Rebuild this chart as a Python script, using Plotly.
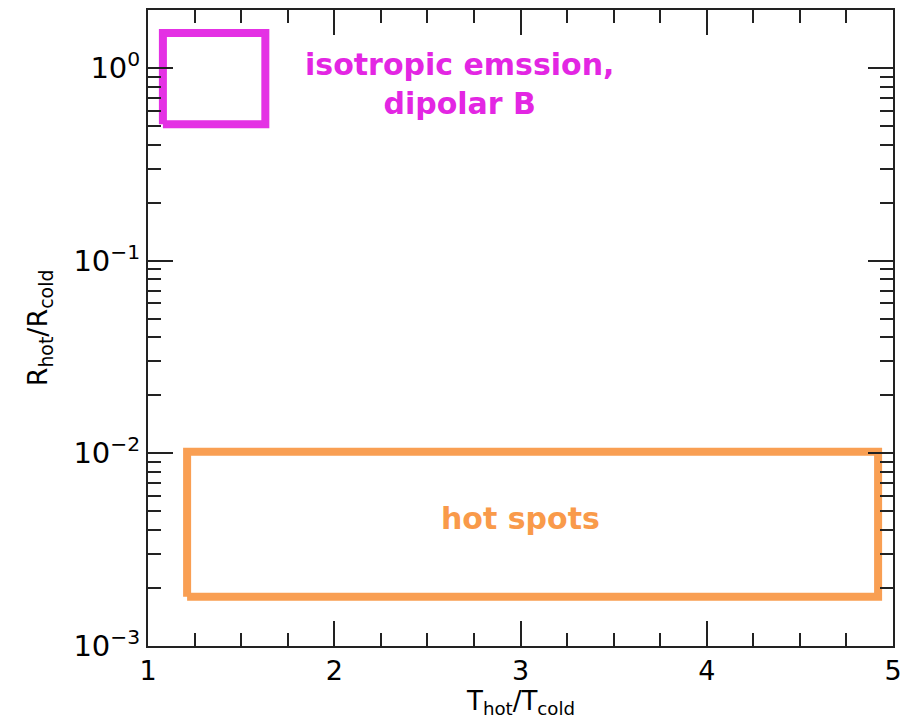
import math
import plotly.graph_objects as go

# Region boundaries (T_hot/T_cold, R_hot/R_cold)
iso_x = [1.08, 1.63, 1.63, 1.08, 1.08]
iso_y = [0.51, 0.51, 1.52, 1.52, 0.51]
hot_x = [1.21, 4.92, 4.92, 1.21, 1.21]
hot_y = [0.0018, 0.0018, 0.0102, 0.0102, 0.0018]

iso_label = "isotropic emssion,<br>dipolar B"
hot_label = "hot spots"
iso_label_pos = (2.675, 0.83)
hot_label_pos = (3.0, 0.0046)

x_title = "T<sub>hot</sub>/T<sub>cold</sub>"
y_title = "R<sub>hot</sub>/R<sub>cold</sub>"
x_ticks = [1, 2, 3, 4, 5]
x_minor = [1.25, 1.5, 1.75, 2.25, 2.5, 2.75, 3.25, 3.5, 3.75, 4.25, 4.5, 4.75]
y_ticks = [0.001, 0.01, 0.1, 1]
y_ticktext = ["10<sup>−3</sup>", "10<sup>−2</sup>", "10<sup>−1</sup>", "10<sup>0</sup>"]
y_minor = [m * d for d in [0.001, 0.01, 0.1, 1] for m in range(2, 10) if m * d <= 2.0]

MAGENTA = "#e326e3"
ORANGE = "#f99a4a"
FONT = "DejaVu Sans, Verdana, sans-serif"

fig = go.Figure()
fig.add_trace(go.Scatter(x=iso_x, y=iso_y, mode="lines",
                         line=dict(color=MAGENTA, width=8), opacity=0.95,
                         showlegend=False, hoverinfo="skip"))
fig.add_trace(go.Scatter(x=hot_x, y=hot_y, mode="lines",
                         line=dict(color=ORANGE, width=8), opacity=0.95,
                         showlegend=False, hoverinfo="skip"))

fig.add_annotation(x=iso_label_pos[0], y=math.log10(iso_label_pos[1]), xref="x", yref="y",
                   text=iso_label, showarrow=False, align="center",
                   font=dict(family=FONT, size=30, color=MAGENTA, weight="bold"))
fig.add_annotation(x=hot_label_pos[0], y=math.log10(hot_label_pos[1]), xref="x", yref="y",
                   text=hot_label, showarrow=False, align="center",
                   font=dict(family=FONT, size=30, color=ORANGE, weight="bold"))
# x-axis title placed below the tick labels
fig.add_annotation(x=0.5, y=0, xref="paper", yref="paper", yanchor="middle",
                   yshift=-56, text=x_title, showarrow=False,
                   font=dict(family=FONT, size=26, color="black"))

axis_common = dict(showgrid=False, zeroline=False, showline=True, linecolor="#222",
                   linewidth=2, mirror="allticks", ticks="inside", tickcolor="#222",
                   tickwidth=1.5, automargin=False)

fig.update_xaxes(range=[1, 5], tickmode="array", tickvals=x_ticks,
                 ticktext=[str(v) for v in x_ticks], ticklen=25,
                 tickfont=dict(family=FONT, size=27, color="black"),
                 minor=dict(tickmode="array", tickvals=x_minor, ticks="inside", ticklen=13,
                            tickcolor="#222", tickwidth=1.5),
                 **axis_common)
fig.update_yaxes(type="log", range=[-3, math.log10(2.0)], tickmode="array",
                 tickvals=y_ticks, ticktext=y_ticktext, ticklen=25,
                 tickfont=dict(family=FONT, size=29, color="black"),
                 minor=dict(tickmode="array", tickvals=y_minor, ticks="inside", ticklen=13,
                            tickcolor="#222", tickwidth=1.5),
                 title=dict(text=y_title,
                            font=dict(family=FONT, size=27, color="black"), standoff=18),
                 **axis_common)

fig.update_layout(width=912, height=720, plot_bgcolor="white", paper_bgcolor="white",
                  font=dict(family=FONT, size=26, color="black"),
                  margin=dict(l=148, r=19, t=10, b=74))

fig.write_html("out.html")
